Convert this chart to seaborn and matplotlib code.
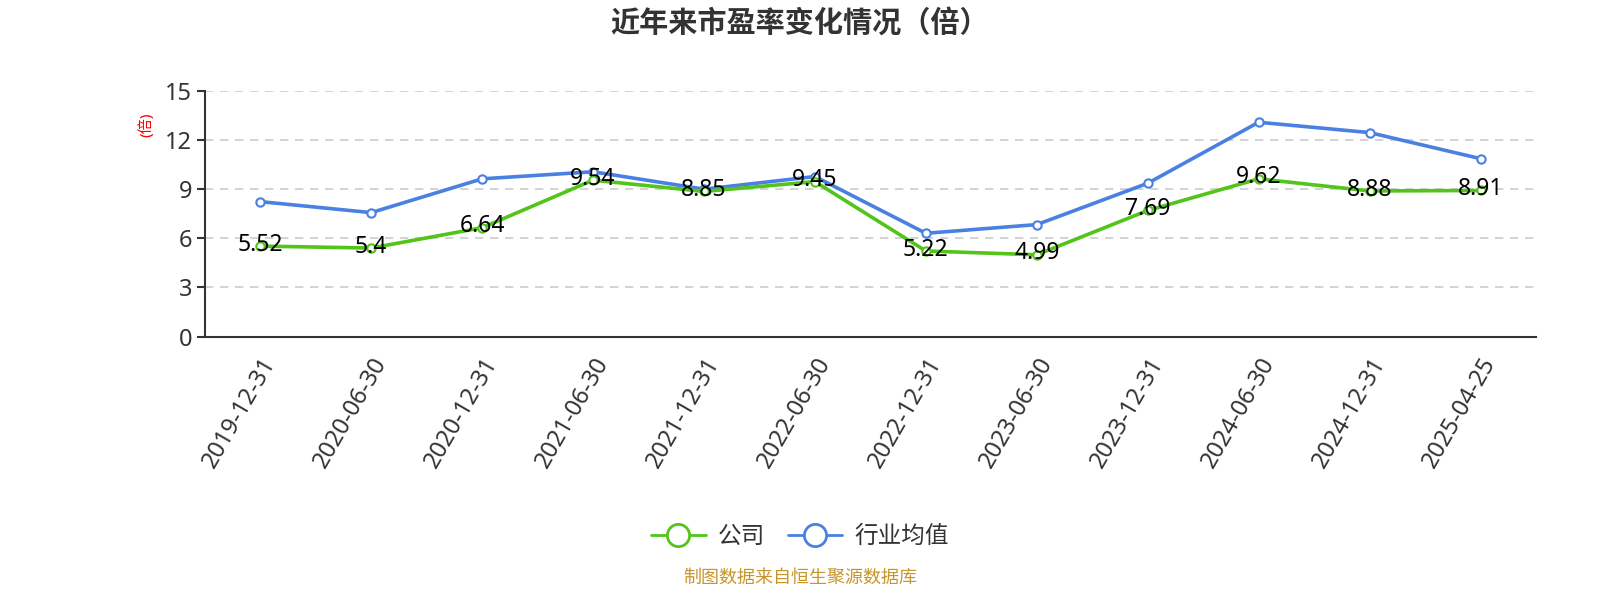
import matplotlib
matplotlib.use("Agg")
import matplotlib.pyplot as plt
from matplotlib.lines import Line2D
from matplotlib.ticker import FixedLocator
import numpy as np
import pandas as pd
import seaborn as sns

# 数据
dates = ["2019-12-31", "2020-06-30", "2020-12-31", "2021-06-30", "2021-12-31",
         "2022-06-30", "2022-12-31", "2023-06-30", "2023-12-31", "2024-06-30",
         "2024-12-31", "2025-04-25"]
company = [5.52, 5.4, 6.64, 9.54, 8.85, 9.45, 5.22, 4.99, 7.69, 9.62, 8.88, 8.91]
industry = [8.23, 7.56, 9.62, 10.05, 8.99, 9.76, 6.30, 6.83, 9.35, 13.07, 12.44, 10.85]
yticks = [0, 3, 6, 9, 12, 15]

GREEN = "#52c41a"
BLUE = "#4a80e2"
TXT = "#333333"

sns.set_theme(style="white")
plt.rcParams["font.family"] = ["Noto Sans", "Noto Sans CJK SC", "DejaVu Sans"]

pos = np.arange(len(dates))
df = pd.DataFrame({"pos": pos, "公司": company, "行业均值": industry})

fig = plt.figure(figsize=(16, 6), dpi=100)
ax = fig.add_axes([0.128, 0.439, 0.832, 0.41])

for name, color in [("行业均值", BLUE), ("公司", GREEN)]:
    sns.lineplot(data=df, x="pos", y=name, ax=ax, color=color, linewidth=2.6,
                 marker="o", markersize=6, markerfacecolor="white",
                 markeredgecolor=color, markeredgewidth=1.5,
                 zorder=3 if name == "公司" else 2)

for x, v in zip(pos, company):
    ax.annotate(f"{v:g}", (x, v), xytext=(0, 1), textcoords="offset points",
                ha="center", va="center", fontsize=16.5, color="black", zorder=5)

ax.set_xlim(-0.5, len(dates) - 0.5)
ax.set_ylim(0, 15)
ax.set_yticks(yticks)
ax.set_yticklabels([str(t) for t in yticks], fontsize=17, color=TXT)
ax.yaxis.grid(True, linestyle=(0, (5, 4)), color="#cccccc", linewidth=1.2)
ax.xaxis.grid(False)

ax.set_xticks(pos)
ax.set_xticklabels(dates, rotation=60, ha="right", rotation_mode="anchor",
                   fontsize=17, color=TXT)
ax.tick_params(axis="x", which="major", length=0, pad=12)
ax.xaxis.set_minor_locator(FixedLocator(np.arange(-0.5, len(dates), 1.0)))
ax.tick_params(axis="x", which="minor", length=6, width=1.5, color=TXT,
               direction="out")
ax.tick_params(axis="y", length=6, width=1.5, color=TXT, direction="out",
               left=True, pad=3)

for side in ["top", "right"]:
    ax.spines[side].set_visible(False)
for side in ["left", "bottom"]:
    ax.spines[side].set_color(TXT)
    ax.spines[side].set_linewidth(1.5)

ax.set_xlabel("")
ax.set_ylabel("(倍)", color="red", fontsize=11, labelpad=2)
ax.yaxis.set_label_coords(-0.038, 0.86)

fig.text(0.5, 0.962, "近年来市盈率变化情况（倍）", ha="center", va="center",
         fontsize=21, fontweight="bold", color=TXT,
         family=["Noto Sans CJK SC", "DejaVu Sans"])

handles = [
    Line2D([], [], color=GREEN, linewidth=2, marker="o", markersize=16,
           markerfacecolor="white", markeredgewidth=2),
    Line2D([], [], color=BLUE, linewidth=2, marker="o", markersize=16,
           markerfacecolor="white", markeredgewidth=2),
]
fig.legend(handles, ["公司", "行业均值"], loc="center",
           bbox_to_anchor=(0.5, 0.105), ncol=2, frameon=False, fontsize=17,
           handlelength=2.3, columnspacing=1.0, handletextpad=0.5,
           labelcolor=TXT)

fig.text(0.5, 0.037, "制图数据来自恒生聚源数据库", ha="center", va="center",
         fontsize=13, color="#c8952a")

fig.savefig("out.png", dpi=100)
